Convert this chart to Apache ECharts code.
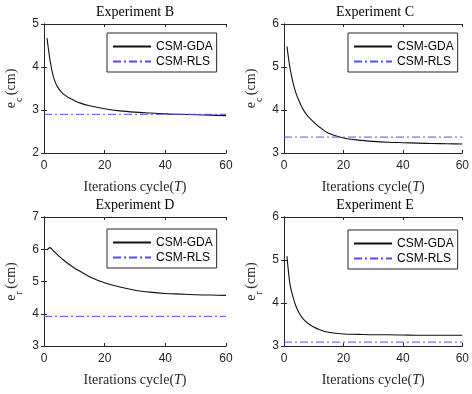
<!DOCTYPE html>
<html lang="en">
  <head>
    <meta charset="UTF-8" />
    <title>CSM-GDA vs CSM-RLS</title>
    <script src="https://cdn.jsdelivr.net/npm/echarts@6/dist/echarts.min.js"></script>
    <style>html, body { margin: 0; padding: 0; background: #fff; }</style>
  </head>
  <body>
    <div id="container" style="width: 472px;height: 394px"></div>
    <script>
      // iteration cycles sampled from the curves
      var iterations = [1, 2, 3, 4, 5, 6, 7, 8, 10, 12, 15, 20, 25, 30, 35, 40, 45, 50, 55, 60]
      var gdaB = [4.67, 4.15, 3.80, 3.60, 3.48, 3.40, 3.34, 3.29, 3.22, 3.16, 3.10, 3.03, 2.98, 2.95, 2.93, 2.91, 2.90, 2.89, 2.88, 2.87]
      var gdaC = [5.48, 4.98, 4.65, 4.40, 4.22, 4.07, 3.95, 3.86, 3.72, 3.60, 3.46, 3.35, 3.30, 3.27, 3.25, 3.24, 3.23, 3.22, 3.215, 3.21]
      var gdaD = [5.98, 6.05, 5.96, 5.87, 5.78, 5.70, 5.62, 5.55, 5.42, 5.31, 5.15, 4.96, 4.83, 4.73, 4.67, 4.63, 4.61, 4.59, 4.58, 4.57]
      var gdaE = [5.09, 4.44, 4.15, 3.93, 3.78, 3.67, 3.59, 3.53, 3.44, 3.38, 3.32, 3.28, 3.27, 3.26, 3.26, 3.255, 3.25, 3.25, 3.25, 3.25]
      // CSM-RLS is constant
      var rlsB = 2.90
      var rlsC = 3.37
      var rlsD = 3.92
      var rlsE = 3.09
      var xTicks = [0, 20, 40, 60]
      var yTicksB = [2, 3, 4, 5]
      var yTicksC = [3, 4, 5, 6]
      var yTicksD = [3, 4, 5, 6, 7]
      var yTicksE = [3, 4, 5, 6]
      var titles = ['Experiment B', 'Experiment C', 'Experiment D', 'Experiment E']
      var ySubs = ['c', 'c', 'r', 'r']

      var gdaAll = [gdaB, gdaC, gdaD, gdaE]
      var rlsAll = [rlsB, rlsC, rlsD, rlsE]
      var yTicksAll = [yTicksB, yTicksC, yTicksD, yTicksE]

      var serif = 'Liberation Serif'
      var sans = 'Liberation Sans'
      var axisColor = '#262626'
      // plot boxes
      var boxes = [
        { left: 44, top: 24 },
        { left: 284, top: 24 },
        { left: 44, top: 217 },
        { left: 284, top: 217 }
      ]
      var boxW = 182, boxH = 129
      var legendPos = [
        { left: 107, top: 33 },
        { left: 348, top: 33 },
        { left: 107, top: 229 },
        { left: 348, top: 230 }
      ]

      var myChart = echarts.init(document.querySelector('#container'))

      var grid = [], xAxis = [], yAxis = [], series = [], legend = [], graphic = []
      for (var i = 0; i < 4; i++) {
        var b = boxes[i]
        var yt = yTicksAll[i]
        grid.push({ left: b.left, top: b.top, width: boxW, height: boxH, containLabel: false })
        var common = {
          type: 'value', gridIndex: i,
          axisLine: { show: true, lineStyle: { color: axisColor, width: 1 } },
          axisTick: { show: true, inside: true, length: 3, lineStyle: { color: axisColor } },
          splitLine: { show: false }
        }
        xAxis.push(Object.assign({}, common, {
          position: 'bottom', min: xTicks[0], max: xTicks[xTicks.length - 1], interval: xTicks[1] - xTicks[0],
          axisLabel: { color: axisColor, fontFamily: sans, fontSize: 12, margin: 7 },
          name: '{n|Iterations cycle(}{i|T}{n|)}', nameLocation: 'middle', nameGap: 27,
          nameTextStyle: {
            rich: {
              n: { fontFamily: serif, fontSize: 14, color: axisColor },
              i: { fontFamily: serif, fontSize: 14, fontStyle: 'italic', color: axisColor }
            }
          }
        }))
        xAxis.push(Object.assign({}, common, {
          position: 'top', min: xTicks[0], max: xTicks[xTicks.length - 1], interval: xTicks[1] - xTicks[0],
          axisLabel: { show: false }
        }))
        yAxis.push(Object.assign({}, common, {
          position: 'left', min: yt[0], max: yt[yt.length - 1], interval: yt[1] - yt[0],
          axisLabel: { color: axisColor, fontFamily: sans, fontSize: 12, margin: 5 },
          name: '{n|e}{s|' + ySubs[i] + ' }{n|(cm)}', nameLocation: 'middle', nameGap: 20, nameRotate: 90,
          nameTextStyle: {
            rich: {
              n: { fontFamily: serif, fontSize: 14, color: axisColor, lineHeight: 16, verticalAlign: 'top' },
              s: { fontFamily: serif, fontSize: 10, color: axisColor, lineHeight: 20, verticalAlign: 'bottom' }
            }
          }
        }))
        yAxis.push(Object.assign({}, common, {
          position: 'right', min: yt[0], max: yt[yt.length - 1], interval: yt[1] - yt[0],
          axisLabel: { show: false }
        }))

        var gda = gdaAll[i]
        series.push({
          name: 'CSM-GDA', type: 'line', xAxisIndex: 2 * i, yAxisIndex: 2 * i,
          symbol: 'none', smooth: 0.3,
          lineStyle: { color: '#111', width: 1.1 },
          itemStyle: { color: '#111' },
          data: iterations.map(function (t, k) { return [t, gda[k]] })
        })
        series.push({
          name: 'CSM-RLS', type: 'line', xAxisIndex: 2 * i, yAxisIndex: 2 * i,
          symbol: 'none',
          lineStyle: { color: '#4d4dff', width: 1, type: [8, 3, 2, 3] },
          itemStyle: { color: '#4d4dff' },
          data: [[xTicks[0], rlsAll[i]], [xTicks[xTicks.length - 1], rlsAll[i]]]
        })

        legend.push({
          left: legendPos[i].left, top: legendPos[i].top,
          orient: 'vertical',
          data: ['CSM-GDA', 'CSM-RLS'],
          itemWidth: 38, itemHeight: 10, itemGap: 0, itemTextGap: 4,
          padding: [6, 4, 3, 5],
          borderColor: axisColor, borderWidth: 1, backgroundColor: '#fff',
          selectedMode: false,
          itemStyle: { opacity: 0 },
          textStyle: { fontFamily: sans, fontSize: 12, color: '#000', lineHeight: 15 }
        })

        graphic.push({
          type: 'text', x: b.left + boxW / 2, y: b.top - 19,
          style: {
            text: titles[i], textAlign: 'center', textVerticalAlign: 'top',
            fontFamily: serif, fontSize: 14, fill: '#000'
          }
        })
      }

      myChart.setOption({
        backgroundColor: '#fff',
        animation: false,
        grid: grid,
        xAxis: xAxis,
        yAxis: yAxis,
        legend: legend,
        graphic: graphic,
        series: series
      })
    </script>
  </body>
</html>
